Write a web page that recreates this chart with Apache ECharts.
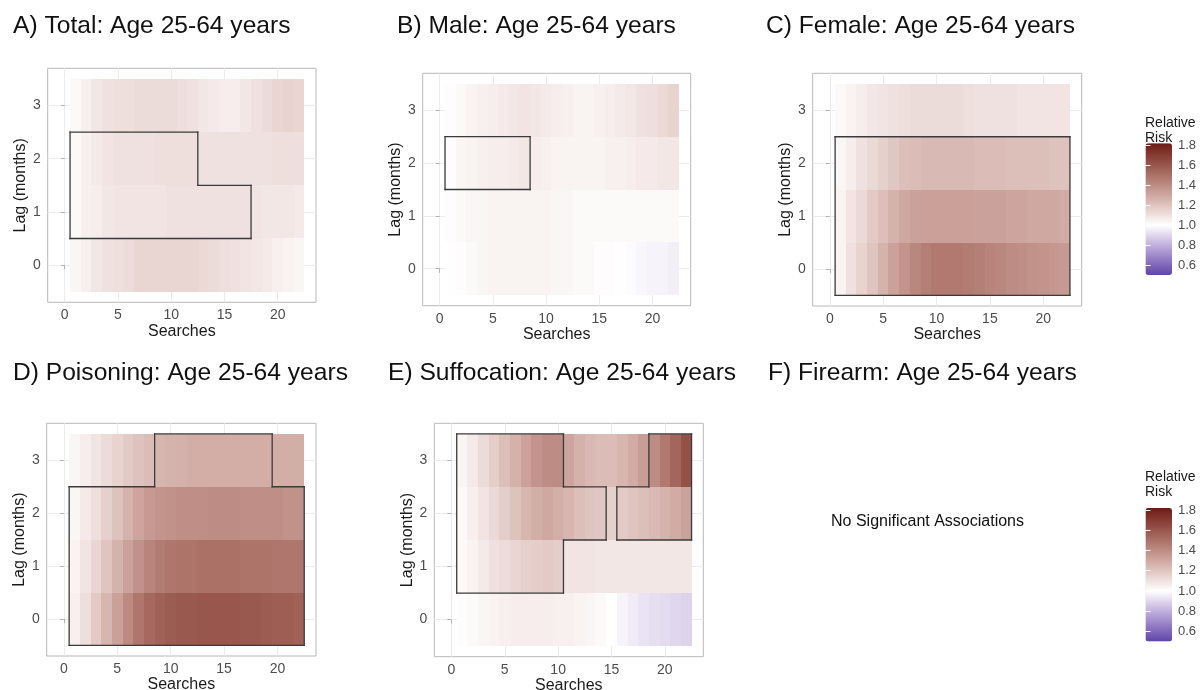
<!DOCTYPE html>
<html><head><meta charset="utf-8">
<script src="https://cdn.jsdelivr.net/npm/echarts@6/dist/echarts.min.js"></script>
<style>html,body{margin:0;padding:0;background:#fff}#c{width:1203px;height:690px}</style>
</head><body><div id="c"></div>
<script>
// ---------------- data ----------------
const searches = [1,2,3,4,5,6,7,8,9,10,11,12,13,14,15,16,17,18,19,20,21,22];
const lags = [0,1,2,3];
const xTicks = [0,5,10,15,20];
const yTicks = [0,1,2,3];
const legendTicks = [0.6,0.8,1.0,1.2,1.4,1.6,1.8];

// A) Total
const totalLag0 = [1.03,1.05,1.08,1.10,1.11,1.12,1.14,1.14,1.14,1.14,1.14,1.14,1.13,1.12,1.11,1.10,1.09,1.08,1.07,1.05,1.04,1.03];
const totalLag1 = [1.02,1.05,1.06,1.08,1.09,1.09,1.09,1.09,1.09,1.10,1.10,1.10,1.10,1.10,1.10,1.10,1.10,1.09,1.08,1.08,1.08,1.07];
const totalLag2 = [1.02,1.05,1.07,1.09,1.10,1.10,1.10,1.10,1.11,1.11,1.11,1.11,1.10,1.10,1.10,1.10,1.10,1.10,1.10,1.11,1.11,1.11];
const totalLag3 = [1.02,1.05,1.08,1.10,1.11,1.11,1.12,1.12,1.12,1.12,1.11,1.10,1.08,1.07,1.06,1.06,1.08,1.10,1.12,1.14,1.15,1.14];
// B) Male
const maleLag0 = [1.00,1.01,1.02,1.03,1.04,1.04,1.04,1.04,1.04,1.04,1.03,1.03,1.02,1.02,1.01,1.01,1.00,0.99,0.98,0.97,0.97,0.96];
const maleLag1 = [1.01,1.02,1.03,1.03,1.04,1.04,1.04,1.04,1.04,1.04,1.03,1.03,1.02,1.02,1.02,1.02,1.02,1.02,1.02,1.02,1.02,1.02];
const maleLag2 = [1.01,1.03,1.04,1.05,1.06,1.06,1.07,1.08,1.06,1.05,1.04,1.04,1.04,1.04,1.04,1.05,1.05,1.06,1.07,1.07,1.08,1.08];
const maleLag3 = [1.01,1.02,1.04,1.05,1.06,1.07,1.08,1.09,1.08,1.07,1.06,1.05,1.04,1.04,1.05,1.06,1.07,1.08,1.10,1.11,1.13,1.15];
// C) Female
const femaleLag0 = [1.04,1.10,1.15,1.20,1.26,1.32,1.37,1.42,1.45,1.47,1.47,1.47,1.46,1.45,1.43,1.42,1.40,1.39,1.38,1.37,1.36,1.35];
const femaleLag1 = [1.04,1.09,1.13,1.18,1.22,1.26,1.30,1.32,1.33,1.33,1.33,1.33,1.33,1.32,1.32,1.32,1.31,1.31,1.30,1.30,1.30,1.29];
const femaleLag2 = [1.03,1.06,1.10,1.13,1.16,1.19,1.22,1.23,1.24,1.24,1.24,1.24,1.24,1.23,1.23,1.23,1.22,1.22,1.22,1.22,1.21,1.21];
const femaleLag3 = [1.02,1.04,1.06,1.08,1.09,1.10,1.11,1.12,1.12,1.12,1.12,1.12,1.11,1.10,1.10,1.10,1.10,1.09,1.09,1.09,1.09,1.09];
// D) Poisoning
const poisLag0 = [1.05,1.11,1.18,1.25,1.33,1.41,1.48,1.53,1.56,1.58,1.59,1.59,1.60,1.60,1.60,1.60,1.59,1.59,1.58,1.57,1.57,1.56];
const poisLag1 = [1.04,1.09,1.14,1.20,1.26,1.32,1.38,1.43,1.46,1.48,1.49,1.49,1.50,1.50,1.50,1.50,1.49,1.49,1.49,1.48,1.48,1.48];
const poisLag2 = [1.03,1.07,1.11,1.16,1.21,1.26,1.31,1.35,1.37,1.38,1.39,1.39,1.39,1.40,1.40,1.40,1.39,1.39,1.39,1.39,1.38,1.38];
const poisLag3 = [1.03,1.06,1.09,1.12,1.15,1.18,1.21,1.23,1.25,1.26,1.27,1.28,1.28,1.28,1.28,1.28,1.28,1.28,1.28,1.28,1.28,1.28];
// E) Suffocation
const suffLag0 = [1.01,1.02,1.03,1.04,1.05,1.06,1.06,1.06,1.06,1.05,1.05,1.04,1.03,1.02,1.00,0.97,0.95,0.93,0.92,0.91,0.90,0.89];
const suffLag1 = [1.02,1.04,1.07,1.10,1.12,1.14,1.16,1.17,1.18,1.17,1.09,1.09,1.09,1.08,1.08,1.08,1.08,1.08,1.08,1.08,1.08,1.08];
const suffLag2 = [1.02,1.05,1.09,1.13,1.17,1.21,1.25,1.28,1.30,1.28,1.25,1.22,1.20,1.19,1.16,1.18,1.20,1.22,1.24,1.26,1.29,1.32];
const suffLag3 = [1.03,1.07,1.12,1.17,1.22,1.27,1.32,1.37,1.40,1.40,1.31,1.27,1.24,1.23,1.23,1.25,1.29,1.34,1.40,1.47,1.54,1.62];

// significant cells: [lag, fromSearch, toSearch]
const sigTotal  = [[1,1,17],[2,1,12]];
const sigMale   = [[2,1,8]];
const sigFemale = [[0,1,22],[1,1,22],[2,1,22]];
const sigPois   = [[0,1,22],[1,1,22],[2,1,22],[3,9,19]];
const sigSuff   = [[1,1,10],[2,1,14],[2,16,22],[3,1,10],[3,19,22]];

const titles = ['A) Total: Age 25-64 years','B) Male: Age 25-64 years','C) Female: Age 25-64 years',
  'D) Poisoning: Age 25-64 years','E) Suffocation: Age 25-64 years','F) Firearm: Age 25-64 years'];
const noSigText = 'No Significant Associations';
const legendTitle = 'Relative\nRisk';

// ---------------- colour scale (Lab interpolation, like ggplot gradient2) ----------------
const lowCol = '#5E45A8', midCol = '#FFFFFF', highCol = '#6C1A16';
const scaleMin = 0.5, scaleMid = 1.0, scaleMax = 1.82;
function hexToRgb(h){h=h.replace('#','');return [0,2,4].map(i=>parseInt(h.substr(i,2),16));}
function s2l(c){c/=255;return c<=0.04045?c/12.92:Math.pow((c+0.055)/1.055,2.4);}
function l2s(c){const v=c<=0.0031308?12.92*c:1.055*Math.pow(c,1/2.4)-0.055;return Math.max(0,Math.min(255,Math.round(v*255)));}
function rgbToLab(rgb){const [R,G,B]=rgb.map(s2l);
  const X=(0.4124*R+0.3576*G+0.1805*B)/0.95047,Y=0.2126*R+0.7152*G+0.0722*B,Z=(0.0193*R+0.1192*G+0.9505*B)/1.08883;
  const f=t=>t>0.008856?Math.cbrt(t):7.787*t+16/116;return [116*f(Y)-16,500*(f(X)-f(Y)),200*(f(Y)-f(Z))];}
function labToHex(lab){const fy=(lab[0]+16)/116,fx=fy+lab[1]/500,fz=fy-lab[2]/200;
  const fi=t=>{const t3=t*t*t;return t3>0.008856?t3:(t-16/116)/7.787;};
  const X=fi(fx)*0.95047,Y=fi(fy),Z=fi(fz)*1.08883;
  const r=3.2406*X-1.5372*Y-0.4986*Z,g=-0.9689*X+1.8758*Y+0.0415*Z,b=0.0557*X-0.2040*Y+1.0570*Z;
  return '#'+[r,g,b].map(c=>l2s(Math.max(0,c)).toString(16).padStart(2,'0')).join('');}
const LL=rgbToLab(hexToRgb(lowCol)),LM=rgbToLab(hexToRgb(midCol)),LH=rgbToLab(hexToRgb(highCol));
function colorAt(v){let a,b,t;if(v<scaleMid){a=LM;b=LL;t=(scaleMid-v)/(scaleMid-scaleMin);}else{a=LM;b=LH;t=(v-scaleMid)/(scaleMax-scaleMid);}
  t=Math.max(0,Math.min(1,t));return labToHex([0,1,2].map(i=>a[i]+(b[i]-a[i])*t));}
const palette=[];const NSTOP=67;for(let i=0;i<NSTOP;i++){palette.push(colorAt(scaleMin+(scaleMax-scaleMin)*i/(NSTOP-1)));}

// ---------------- layout ----------------
const panels = [
  {rows:[totalLag0,totalLag1,totalLag2,totalLag3], sig:sigTotal, grid:{left:47.7,top:68.3,width:268.3,height:234}},
  {rows:[maleLag0,maleLag1,maleLag2,maleLag3], sig:sigMale, grid:{left:422.7,top:73.3,width:268,height:232.4}},
  {rows:[femaleLag0,femaleLag1,femaleLag2,femaleLag3], sig:sigFemale, grid:{left:812.7,top:73.3,width:269,height:232.7}},
  {rows:[poisLag0,poisLag1,poisLag2,poisLag3], sig:sigPois, grid:{left:46.7,top:423.3,width:269.3,height:232.7}},
  {rows:[suffLag0,suffLag1,suffLag2,suffLag3], sig:sigSuff, grid:{left:434.3,top:423.3,width:269,height:233.4}}
];
const titlePos = [[13,14],[397,14],[766,14],[13,361],[388,361],[768,361]];

const FONT = '"Liberation Sans", Arial, Helvetica, sans-serif';
const grids=[],xAxes=[],yAxes=[],series=[];

function renderTile(params, api){
  const x=api.value(0), y=api.value(1);
  const p1=api.coord([x-0.5,y+0.5]), p2=api.coord([x+0.5,y-0.5]);
  const x1=Math.round(p1[0]),x2=Math.round(p2[0]),y1=Math.round(p1[1]),y2=Math.round(p2[1]);
  return {type:'rect',shape:{x:x1,y:y1,width:x2-x1,height:y2-y1},style:{fill:api.visual('color')}};
}
// boundary runs of the significant region, derived from the significance lists
function outlineRuns(sig){
  const set=new Set();
  sig.forEach(([lag,a,b])=>{for(let s=a;s<=b;s++) set.add(s+','+lag);});
  const has=(s,l)=>set.has(s+','+l);
  const runs=[];
  const lastLag=lags[lags.length-1], lastS=searches[searches.length-1];
  for(let l=lags[0];l<=lastLag+1;l++){
    let start=null;
    searches.forEach((s,idx)=>{
      const e=has(s,l-1)!==has(s,l);
      if(e&&start===null) start=s;
      if(start!==null&&(!e||idx===searches.length-1)){const end=e?s:s-1;runs.push([start-0.5,l-0.5,end+0.5,l-0.5]);start=null;}
    });
  }
  for(let s=searches[0];s<=lastS+1;s++){
    let start=null;
    lags.forEach((l,idx)=>{
      const e=has(s-1,l)!==has(s,l);
      if(e&&start===null) start=l;
      if(start!==null&&(!e||idx===lags.length-1)){const end=e?l:l-1;runs.push([s-0.5,start-0.5,s-0.5,end+0.5]);start=null;}
    });
  }
  return runs;
}
function renderRun(params, api){
  const a=api.coord([api.value(0),api.value(1)]), b=api.coord([api.value(2),api.value(3)]);
  return {type:'line',shape:{x1:a[0],y1:a[1],x2:b[0],y2:b[1]},style:{stroke:'#3a3a3a',lineWidth:1.3,lineCap:'square'}};
}

panels.forEach((p,i)=>{
  grids.push(Object.assign({show:true,borderColor:'#b8b8b8',borderWidth:1,backgroundColor:'transparent',
    containLabel:false,outerBoundsMode:'none'},p.grid));
  xAxes.push({gridIndex:i,type:'value',min:-1.6,max:23.6,
    axisLine:{show:false},
    axisTick:{show:true,length:4,customValues:xTicks,lineStyle:{color:'#b3b3b3'}},
    axisLabel:{customValues:xTicks,fontSize:14,color:'#4d4d4d',margin:6,fontFamily:FONT},
    splitLine:{show:true,lineStyle:{color:'#ececec',width:1}},
    name:'Searches',nameLocation:'middle',nameGap:20,nameTextStyle:{fontSize:16,color:'#1a1a1a',fontFamily:FONT}});
  yAxes.push({gridIndex:i,type:'value',min:-0.7,max:3.7,
    axisLine:{show:false},
    axisTick:{show:true,length:4,customValues:yTicks,lineStyle:{color:'#b3b3b3'}},
    axisLabel:{customValues:yTicks,fontSize:14,color:'#4d4d4d',margin:7,fontFamily:FONT},
    splitLine:{show:true,lineStyle:{color:'#ececec',width:1}},
    name:'Lag (months)',nameLocation:'middle',nameGap:19,nameTextStyle:{fontSize:16,color:'#1a1a1a',fontFamily:FONT}});
  const data=[];
  lags.forEach((lag,li)=>searches.forEach((s,si)=>data.push([s,lag,p.rows[li][si]])));
  series.push({type:'custom',xAxisIndex:i,yAxisIndex:i,renderItem:renderTile,encode:{x:0,y:1},data:data,z:2,silent:true});
  series.push({type:'custom',xAxisIndex:i,yAxisIndex:i,renderItem:renderRun,encode:{x:[0,2],y:[1,3]},data:outlineRuns(p.sig),z:3,silent:true});
});

// legend axes (tick labels for the colour bars)
const legendBoxes=[{top:143.3,height:131.7,titleTop:115.5},{top:508,height:133.5,titleTop:470}];
legendBoxes.forEach((lb,k)=>{
  const gi=grids.length;
  grids.push({left:1145.5,top:lb.top,width:26.5,height:lb.height,show:false,containLabel:false,outerBoundsMode:'none'});
  xAxes.push({gridIndex:gi,type:'value',show:false,min:0,max:1});
  yAxes.push({gridIndex:gi,type:'value',min:scaleMin,max:scaleMax,position:'right',z:10,
    axisLine:{show:false},splitLine:{show:false},
    axisTick:{show:true,inside:true,length:5,customValues:legendTicks,lineStyle:{color:'#ffffff',width:1}},
    axisLabel:{customValues:legendTicks,formatter:v=>v.toFixed(1),fontSize:13,color:'#4d4d4d',margin:6,fontFamily:FONT}});
  yAxes.push({gridIndex:gi,type:'value',min:scaleMin,max:scaleMax,position:'left',z:10,
    axisLine:{show:false},splitLine:{show:false},
    axisTick:{show:true,inside:true,length:5,customValues:legendTicks,lineStyle:{color:'#ffffff',width:1}},
    axisLabel:{show:false}});
});

const titleComps = titles.map((t,i)=>({text:t,left:titlePos[i][0],top:titlePos[i][1],padding:0,
  textStyle:{fontSize:24.6,fontWeight:'normal',color:'#111',fontFamily:FONT}}));
titleComps.push({text:noSigText,left:831,top:514,padding:0,textStyle:{fontSize:16,fontWeight:'normal',color:'#111',fontFamily:FONT}});
legendBoxes.forEach(lb=>titleComps.push({text:legendTitle,left:1145,top:lb.titleTop,padding:0,
  textStyle:{fontSize:14,fontWeight:'normal',color:'#1a1a1a',lineHeight:15,fontFamily:FONT}}));

const vmBase={type:'continuous',min:scaleMin,max:scaleMax,dimension:2,calculable:false,
  inRange:{color:palette},itemWidth:26.5,padding:0,left:1145.5,orient:'vertical',hoverLink:false,text:null};
const visualMaps=[
  Object.assign({},vmBase,{seriesIndex:[0,2,4],top:legendBoxes[0].top,itemHeight:legendBoxes[0].height}),
  Object.assign({},vmBase,{seriesIndex:[6,8],top:legendBoxes[1].top,itemHeight:legendBoxes[1].height})
];

const chart=echarts.init(document.getElementById('c'),null,{renderer:'canvas'});
chart.setOption({animation:false,backgroundColor:'#ffffff',textStyle:{fontFamily:FONT},
  title:titleComps,grid:grids,xAxis:xAxes,yAxis:yAxes,visualMap:visualMaps,series:series});
</script></body></html>
